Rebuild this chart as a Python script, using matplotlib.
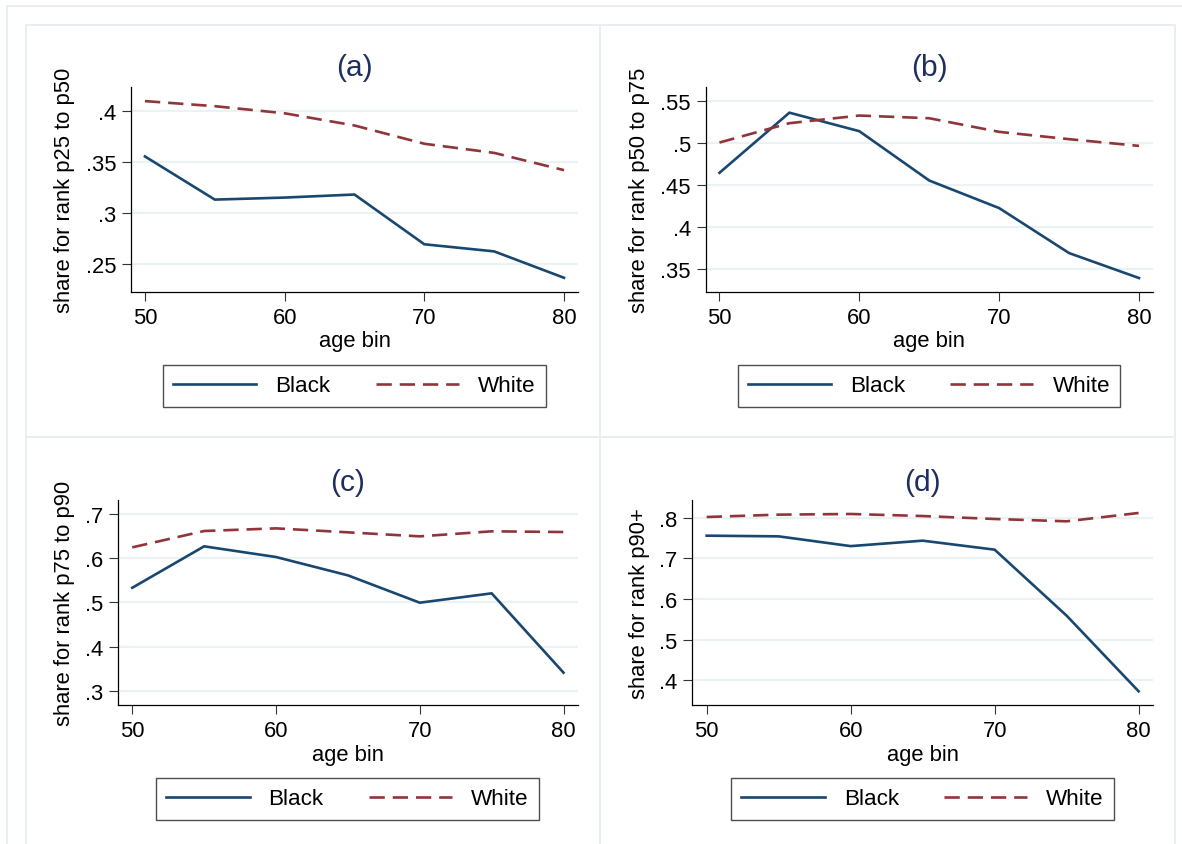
import matplotlib
matplotlib.use("Agg")
import matplotlib.pyplot as plt
from matplotlib.patches import Rectangle

plt.rcParams['font.family'] = ['Liberation Sans', 'DejaVu Sans']

# ---- data ----
age_bins = [50, 55, 60, 65, 70, 75, 80]
series_names = ["Black", "White"]
panel_titles = ["(a)", "(b)", "(c)", "(d)"]
ylabels = ["share for rank p25 to p50", "share for rank p50 to p75",
           "share for rank p75 to p90", "share for rank p90+"]

a_black = [0.3555, 0.313, 0.315, 0.318, 0.269, 0.262, 0.236]
a_white = [0.410, 0.405, 0.398, 0.386, 0.368, 0.359, 0.342]
b_black = [0.4645, 0.536, 0.514, 0.4553, 0.4225, 0.369, 0.3393]
b_white = [0.5005, 0.5235, 0.5326, 0.5294, 0.5132, 0.5045, 0.4965]
c_black = [0.533, 0.6268, 0.6026, 0.5611, 0.4992, 0.5204, 0.3408]
c_white = [0.6245, 0.6615, 0.6675, 0.6585, 0.6494, 0.6608, 0.6592]
d_black = [0.7557, 0.754, 0.730, 0.7434, 0.7213, 0.559, 0.373]
d_white = [0.8016, 0.8074, 0.809, 0.804, 0.7967, 0.791, 0.8115]

xticks = [50, 60, 70, 80]
a_yticks = [0.25, 0.30, 0.35, 0.40]
a_yticklabels = [".25", ".3", ".35", ".4"]
b_yticks = [0.35, 0.40, 0.45, 0.50, 0.55]
b_yticklabels = [".35", ".4", ".45", ".5", ".55"]
c_yticks = [0.3, 0.4, 0.5, 0.6, 0.7]
c_yticklabels = [".3", ".4", ".5", ".6", ".7"]
d_yticks = [0.4, 0.5, 0.6, 0.7, 0.8]
d_yticklabels = [".4", ".5", ".6", ".7", ".8"]

blacks = [a_black, b_black, c_black, d_black]
whites = [a_white, b_white, c_white, d_white]
yticks_all = [a_yticks, b_yticks, c_yticks, d_yticks]
yticklabels_all = [a_yticklabels, b_yticklabels, c_yticklabels, d_yticklabels]
ylims = [(0.222, 0.4236), (0.3227, 0.5662), (0.2676, 0.7317), (0.3393, 0.8434)]

# ---- layout (pixels) ----
W, H = 1182, 845
fig = plt.figure(figsize=(W / 100, H / 100), dpi=100)
fig.patch.set_facecolor("white")

def fx(px):
    return px / W

def fy(py):
    return 1 - py / H

frame_col = "#e6eef1"
# outer frame
fig.add_artist(Rectangle((fx(6.7), fy(900)), fx(1300) - fx(6.7), fy(6.7) - fy(900),
                         transform=fig.transFigure, fill=False, ec=frame_col, lw=1.3))
# panel frames
panel_boxes = [(25.7, 25.7, 600, 438.3), (600, 25.7, 1175, 438.3),
               (25.7, 438.3, 600, 850), (600, 438.3, 1175, 850)]
for (x0, y0, x1, y1) in panel_boxes:
    fig.add_artist(Rectangle((fx(x0), fy(y1)), fx(x1) - fx(x0), fy(y0) - fy(y1),
                             transform=fig.transFigure, fill=False, ec=frame_col, lw=1.3))

# axes rectangles: left, right, top, bottom in px
axes_px = [(131, 578, 88.3, 293), (705.5, 1153, 88.3, 293),
           (117.9, 577.9, 501, 706), (692.3, 1153, 501, 706)]
title_pos = [(354.5, 68), (929.3, 68), (347.9, 483), (922.6, 483)]
ylabel_x = [64.3, 639.2, 64.3, 639.2]
xlabel_y = [341.7, 341.7, 755.5, 755.5]
legend_px = [(162.6, 546, 366, 408), (736.9, 1121, 366, 408),
             (155.4, 539.6, 779, 821), (730.5, 1114.7, 779, 821)]

navy = "#1a476f"
maroon = "#90353b"
fs = 15.8
lw = 1.9

for i in range(4):
    l, r, t, b = axes_px[i]
    ax = fig.add_axes([fx(l), fy(b), fx(r) - fx(l), fy(t) - fy(b)])
    ax.set_facecolor("white")
    for yv in yticks_all[i]:
        ax.axhline(yv, color="#eaf2f3", lw=1.6, zorder=0)
    ax.plot(age_bins, blacks[i], color=navy, lw=lw, solid_joinstyle="miter",
            label=series_names[0], zorder=3)
    ax.plot(age_bins, whites[i], color=maroon, lw=lw, dashes=(5.8, 3.0),
            label=series_names[1], zorder=3)
    ax.set_xlim(49, 81)
    ax.set_ylim(*ylims[i])
    ax.set_xticks(xticks)
    ax.set_xticklabels([str(v) for v in xticks])
    ax.set_yticks(yticks_all[i])
    ax.set_yticklabels(yticklabels_all[i])
    ax.tick_params(axis="both", length=6.5, width=0.8, labelsize=fs, pad=4,
                   color="#333333")
    for side in ["top", "right"]:
        ax.spines[side].set_visible(False)
    for side in ["left", "bottom"]:
        ax.spines[side].set_linewidth(0.9)
        ax.spines[side].set_color("black")
    ax.set_xlabel("age bin", fontsize=fs)
    ax.xaxis.set_label_coords(0.5, -(xlabel_y[i] - b) / (b - t))
    ax.xaxis.label.set_va("center")
    ax.set_ylabel(ylabels[i], fontsize=fs)
    ax.yaxis.set_label_coords(-(l - ylabel_x[i]) / (r - l), 0.5)
    ax.yaxis.label.set_va("center")
    tx, ty = title_pos[i]
    fig.text(fx(tx), fy(ty), panel_titles[i], fontsize=21.5, color="#1e2f5f",
             ha="center", va="center")
    # legend
    lx0, lx1, ly0, ly1 = legend_px[i]
    leg = ax.legend(loc="center", bbox_to_anchor=(fx((lx0 + lx1) / 2), fy((ly0 + ly1) / 2)),
                    bbox_transform=fig.transFigure, ncol=2, fontsize=16.2,
                    frameon=True, fancybox=False, edgecolor="#222222",
                    handlelength=3.7, handletextpad=0.85, columnspacing=2.0,
                    borderpad=0.45, borderaxespad=0)
    leg.get_frame().set_linewidth(1.0)

fig.savefig("out.png", dpi=100, facecolor="white")
